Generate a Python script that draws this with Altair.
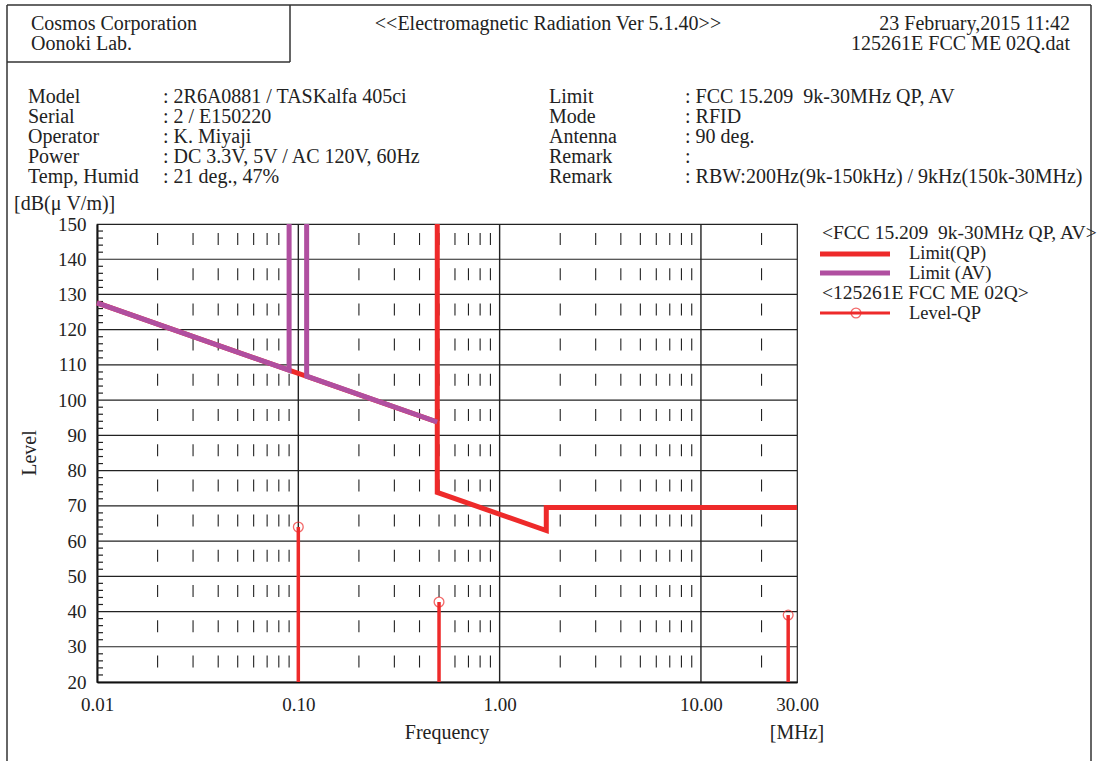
import altair as alt
import pandas as pd

# ---------------- data ----------------
limit_qp_freq = [0.01, 0.49, 0.49, 0.49, 1.705, 1.705, 30.0]
limit_qp_level = [127.6, 93.8, 150.0, 73.8, 63.0, 69.5, 69.5]

limit_av_freq = [0.01, 0.09, 0.09, 0.11, 0.11, 0.49]
limit_av_level = [127.6, 108.5, 150.0, 150.0, 106.8, 93.8]
limit_av_segment = [1, 1, 1, 2, 2, 2]

level_qp_freq = [0.1, 0.5, 27.12]
level_qp_level = [64.0, 42.7, 39.0]

x_ticks = [0.01, 0.1, 1.0, 10.0, 30.0]
x_decades = [0.1, 1.0, 10.0]
x_minor = [m * d for d in (0.01, 0.1, 1.0) for m in range(2, 10)] + [20.0]
y_ticks = list(range(20, 151, 10))
y_major = list(range(30, 141, 10))
y_minor = [v for v in range(22, 150, 2) if v % 10 != 0]

# ---------------- style ----------------
FONT = "Liberation Serif"
TXT = "#222222"
RED = "#EE2A2A"
PURPLE = "#B04FA0"
W, H = 700, 458
OX, OY = 97, 224  # plot origin within page
FS = 20
LFS = 18.5

xs = alt.Scale(type="log", domain=[0.01, 30])
ys = alt.Scale(domain=[20, 150])

x_axis = alt.Axis(values=x_ticks, format=".2f", ticks=False, grid=False, domainColor="#111111",
                  domainWidth=2, labelFont=FONT, labelFontSize=19, labelColor=TXT,
                  labelPadding=13, labelFlush=False, title=None)
y_axis = alt.Axis(values=y_ticks, ticks=False, grid=False, domainColor="#111111", domainWidth=2,
                  labelFont=FONT, labelFontSize=19, labelColor=TXT, labelPadding=11,
                  labelFlush=False, title=None)

def X(field):
    return alt.X(field, scale=xs, axis=x_axis)

def Y(field):
    return alt.Y(field, scale=ys, axis=y_axis)

def px(x):
    return x - OX

def py(y):
    return y - OY

def label(text, x, y, align="left", size=FS, angle=0):
    return alt.Chart(alt.Data(values=[{"t": text}])).mark_text(
        x=px(x), y=py(y), align=align, baseline="middle", font=FONT,
        fontSize=size, color=TXT, angle=angle
    ).encode(text="t:N")

def hline(x1, x2, y, color="#333333", width=1.5):
    return alt.Chart(alt.Data(values=[{}])).mark_rule(color=color, strokeWidth=width).encode(
        x=alt.value(px(x1)), x2=alt.value(px(x2)), y=alt.value(py(y)))

def vline(x, y1, y2, color="#333333", width=1.5):
    return alt.Chart(alt.Data(values=[{}])).mark_rule(color=color, strokeWidth=width).encode(
        x=alt.value(px(x)), y=alt.value(py(y1)), y2=alt.value(py(y2)))

# ---------------- grid ----------------
grid_dash = alt.Chart(pd.DataFrame({"f": x_minor})).mark_rule(
    color="#222222", strokeWidth=1.1, strokeDash=[12, 23.2], strokeDashOffset=26.2
).encode(x=X("f:Q"), y=alt.value(0), y2=alt.value(H))

grid_dec = alt.Chart(pd.DataFrame({"f": x_decades})).mark_rule(
    color="#222222", strokeWidth=1.4
).encode(x=X("f:Q"), y=alt.value(0), y2=alt.value(H))

grid_h = alt.Chart(pd.DataFrame({"v": y_major})).mark_rule(
    color="#222222", strokeWidth=1.2
).encode(y=Y("v:Q"), x=alt.value(0), x2=alt.value(W))

minor_ticks = alt.Chart(pd.DataFrame({"v": y_minor})).mark_rule(
    color="#222222", strokeWidth=1.2
).encode(y=Y("v:Q"), x=alt.value(0), x2=alt.value(6))

# ---------------- limits ----------------
qp_df = pd.DataFrame({"f": limit_qp_freq, "v": limit_qp_level, "o": range(len(limit_qp_freq))})
qp_line = alt.Chart(qp_df).mark_line(color=RED, strokeWidth=5, strokeJoin="miter").encode(
    x=X("f:Q"), y=Y("v:Q"), order="o:Q")

av_df = pd.DataFrame({"f": limit_av_freq, "v": limit_av_level, "s": limit_av_segment,
                      "o": range(len(limit_av_freq))})
av_line = alt.Chart(av_df).mark_line(color=PURPLE, strokeWidth=5, strokeJoin="miter").encode(
    x=X("f:Q"), y=Y("v:Q"), detail="s:N", order="o:Q")

# ---------------- measured levels ----------------
lv_df = pd.DataFrame({"f": level_qp_freq, "v": level_qp_level})
stems = alt.Chart(lv_df).mark_rule(color=RED, strokeWidth=3.5).encode(
    x=X("f:Q"), y=Y("v:Q"), y2=alt.datum(20))
points = alt.Chart(lv_df).mark_point(shape="circle", size=95, filled=False, color=RED,
                                     strokeWidth=1.3).encode(x=X("f:Q"), y=Y("v:Q"))

# ---------------- page furniture ----------------
frame = [
    hline(7, 1091, 5), vline(7, 5, 761), vline(1091, 5, 761),
    hline(7, 290, 62), vline(290, 5, 62),
]

texts = [
    label("Cosmos Corporation", 31, 24),
    label("Oonoki Lab.", 31, 44),
    label("<<Electromagnetic Radiation Ver 5.1.40>>", 548, 24, align="center"),
    label("23 February,2015 11:42", 1070, 24, align="right"),
    label("125261E FCC ME 02Q.dat", 1070, 44, align="right"),
]
left_keys = ["Model", "Serial", "Operator", "Power", "Temp, Humid"]
left_vals = [": 2R6A0881 / TASKalfa 405ci", ": 2 / E150220", ": K. Miyaji",
             ": DC 3.3V, 5V / AC 120V, 60Hz", ": 21 deg., 47%"]
right_keys = ["Limit", "Mode", "Antenna", "Remark", "Remark"]
right_vals = [": FCC 15.209\u00a0 9k-30MHz QP, AV", ": RFID", ": 90 deg.", ":",
              ": RBW:200Hz(9k-150kHz) / 9kHz(150k-30MHz)"]
for i in range(5):
    yy = 97 + 20 * i
    texts += [label(left_keys[i], 28, yy), label(left_vals[i], 163, yy),
              label(right_keys[i], 549, yy), label(right_vals[i], 685, yy)]

texts += [
    label("[dB(\u03bc V/m)]", 14, 204),
    label("Level", 30, 453, align="center", angle=270),
    label("Frequency", 447, 733, align="center"),
    label("[MHz]", 797, 733, align="center"),
    # legend
    label("<FCC 15.209\u00a0 9k-30MHz QP, AV>", 822, 233, size=19.5),
    label("Limit(QP)", 909, 253, size=LFS),
    label("Limit (AV)", 909, 273, size=LFS),
    label("<125261E FCC ME 02Q>", 822, 293, size=19.5),
    label("Level-QP", 909, 313, size=LFS),
]
legend_marks = [
    hline(820, 890, 254, color=RED, width=5),
    hline(820, 890, 273, color=PURPLE, width=5),
    hline(820, 890, 313, color=RED, width=3),
    alt.Chart(alt.Data(values=[{}])).mark_point(shape="circle", size=95, filled=False,
                                                color=RED, strokeWidth=1.3).encode(
        x=alt.value(px(856)), y=alt.value(py(313))),
]

chart = alt.layer(
    grid_dash, grid_dec, grid_h, minor_ticks, qp_line, av_line, stems, points,
    *frame, *legend_marks, *texts
).properties(
    width=W, height=H,
    autosize=alt.AutoSizeParams(type="none"),
    padding={"left": OX, "top": OY, "right": 1119 - OX - W, "bottom": 761 - OY - H},
    background="white",
).configure_view(stroke="#222222", strokeWidth=1.2)

chart.save("out.html", embed_options={"renderer": "svg", "actions": False})
